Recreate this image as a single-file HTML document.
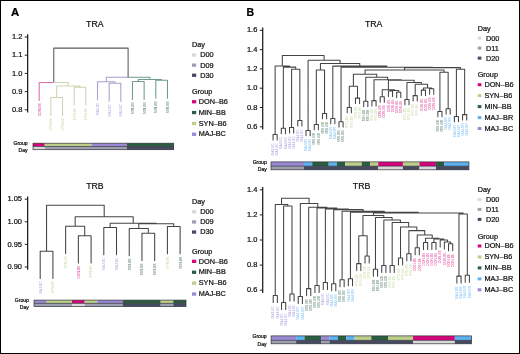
<!DOCTYPE html>
<html><head><meta charset="utf-8"><style>
html,body{margin:0;padding:0;background:#fff;}
body{width:520px;height:354px;overflow:hidden;font-family:"Liberation Sans",sans-serif;}
svg{display:block;will-change:transform;}
</style></head><body>
<svg width="520" height="354" viewBox="0 0 520 354" font-family="Liberation Sans, sans-serif">
<rect x="0" y="0" width="520" height="354" fill="#fff"/>
<text x="11.1" y="16.3" font-size="10.4" text-anchor="start" fill="#000" font-weight="bold" stroke="#000" stroke-width="0.22" textLength="8.2" lengthAdjust="spacingAndGlyphs">A</text>
<text x="246.6" y="16.3" font-size="10.4" text-anchor="start" fill="#000" font-weight="bold" stroke="#000" stroke-width="0.22" textLength="7.6" lengthAdjust="spacingAndGlyphs">B</text>
<text x="86.05" y="27.3" font-size="9.5" text-anchor="start" fill="#111" stroke="#111" stroke-width="0.22" textLength="17.5" lengthAdjust="spacingAndGlyphs">TRA</text>
<text x="86.2" y="189" font-size="9.5" text-anchor="start" fill="#111" stroke="#111" stroke-width="0.22" textLength="17.5" lengthAdjust="spacingAndGlyphs">TRB</text>
<text x="364.95" y="27.1" font-size="9.5" text-anchor="start" fill="#111" stroke="#111" stroke-width="0.22" textLength="17.5" lengthAdjust="spacingAndGlyphs">TRA</text>
<text x="352.85" y="189.3" font-size="9.5" text-anchor="start" fill="#111" stroke="#111" stroke-width="0.22" textLength="17.5" lengthAdjust="spacingAndGlyphs">TRB</text>
<path d="M27.65 34.2V112.6" stroke="#1a1a1a" stroke-width="1.25" fill="none"/>
<path d="M24.75 37H27.65M24.75 55.2H27.65M24.75 73.4H27.65M24.75 91.6H27.65M24.75 109.8H27.65" stroke="#222" stroke-width="1" fill="none"/>
<text x="22.4" y="39.17" font-size="7.5" text-anchor="end" fill="#111" stroke="#111" stroke-width="0.22">1.2</text>
<text x="22.4" y="57.38" font-size="7.5" text-anchor="end" fill="#111" stroke="#111" stroke-width="0.22">1.1</text>
<text x="22.4" y="75.58" font-size="7.5" text-anchor="end" fill="#111" stroke="#111" stroke-width="0.22">1.0</text>
<text x="22.4" y="93.77" font-size="7.5" text-anchor="end" fill="#111" stroke="#111" stroke-width="0.22">0.9</text>
<text x="22.4" y="111.97" font-size="7.5" text-anchor="end" fill="#111" stroke="#111" stroke-width="0.22">0.8</text>
<path d="M90.94 48.1H53.77V82.5M90.94 48.1H128.11V77.2" stroke="#5a5a5a" stroke-width="1.05" fill="none" stroke-linecap="round" stroke-linejoin="round"/>
<path d="M53.77 82.5H39.2V100.5" stroke="#dc6cb0" stroke-width="1.05" fill="none" stroke-linecap="round" stroke-linejoin="round"/>
<path d="M53.77 82.5H68.35V85.9M68.35 85.9H56.69V97.4M56.69 97.4H50.86V115.4M56.69 97.4H62.52V115.4M68.35 85.9H80.01V87.2M80.01 87.2H74.18V105.2M80.01 87.2H85.84V105.2" stroke="#cdd5b0" stroke-width="1.05" fill="none" stroke-linecap="round" stroke-linejoin="round"/>
<path d="M128.11 77.2H106.25V81.8M106.25 81.8H97.5V99.8M106.25 81.8H114.99V83.3M114.99 83.3H109.16V101.3M114.99 83.3H120.82V101.3" stroke="#a89ed0" stroke-width="1.05" fill="none" stroke-linecap="round" stroke-linejoin="round"/>
<path d="M128.11 77.2H149.97V79.5M149.97 79.5H138.31V81.4M138.31 81.4H132.48V99.4M138.31 81.4H144.14V99.4M149.97 79.5H161.63V80.3M161.63 80.3H155.8V98.3M161.63 80.3H167.46V98.3" stroke="#6f9c8c" stroke-width="1.05" fill="none" stroke-linecap="round" stroke-linejoin="round"/>
<text transform="translate(40.61 103.4) rotate(-90)" font-size="3.35" text-anchor="end" fill="#d6047c" fill-opacity="0.8">DON-B6</text>
<text transform="translate(52.27 118.3) rotate(-90)" font-size="3.35" text-anchor="end" fill="#bccf8a" fill-opacity="0.8">SYN-B6</text>
<text transform="translate(63.93 118.3) rotate(-90)" font-size="3.35" text-anchor="end" fill="#bccf8a" fill-opacity="0.8">SYN-B6</text>
<text transform="translate(75.59 108.1) rotate(-90)" font-size="3.35" text-anchor="end" fill="#bccf8a" fill-opacity="0.8">SYN-B6</text>
<text transform="translate(87.25 108.1) rotate(-90)" font-size="3.35" text-anchor="end" fill="#bccf8a" fill-opacity="0.8">SYN-B6</text>
<text transform="translate(98.91 102.7) rotate(-90)" font-size="3.35" text-anchor="end" fill="#9a88d6" fill-opacity="0.8">MAJ-BC</text>
<text transform="translate(110.57 104.2) rotate(-90)" font-size="3.35" text-anchor="end" fill="#9a88d6" fill-opacity="0.8">MAJ-BC</text>
<text transform="translate(122.23 104.2) rotate(-90)" font-size="3.35" text-anchor="end" fill="#9a88d6" fill-opacity="0.8">MAJ-BC</text>
<text transform="translate(133.89 102.3) rotate(-90)" font-size="3.35" text-anchor="end" fill="#2a5e42" fill-opacity="0.8">MIN-BB</text>
<text transform="translate(145.55 102.3) rotate(-90)" font-size="3.35" text-anchor="end" fill="#2a5e42" fill-opacity="0.8">MIN-BB</text>
<text transform="translate(157.21 101.2) rotate(-90)" font-size="3.35" text-anchor="end" fill="#2a5e42" fill-opacity="0.8">MIN-BB</text>
<text transform="translate(168.87 101.2) rotate(-90)" font-size="3.35" text-anchor="end" fill="#2a5e42" fill-opacity="0.8">MIN-BB</text>
<rect x="33" y="143.2" width="11.72" height="3.3" fill="#d6047c"/>
<rect x="44.73" y="143.2" width="46.9" height="3.3" fill="#bccf8a"/>
<rect x="91.62" y="143.2" width="35.17" height="3.3" fill="#9a88d6"/>
<rect x="126.8" y="143.2" width="46.9" height="3.3" fill="#2a5e42"/>
<rect x="33" y="146.5" width="11.72" height="3.2" fill="#d9d9dd"/>
<rect x="44.73" y="146.5" width="82.08" height="3.2" fill="#9ca0b2"/>
<rect x="126.8" y="146.5" width="46.9" height="3.2" fill="#454a64"/>
<rect x="33" y="143.2" width="140.7" height="6.5" fill="none" stroke="#333" stroke-width="0.7"/>
<path d="M33 146.5H173.7" stroke="#333" stroke-width="0.7"/>
<text x="27.6" y="144.7" font-size="5.1" text-anchor="end" fill="#111" stroke="#111" stroke-width="0.22">Group</text>
<text x="27.6" y="151.6" font-size="5.1" text-anchor="end" fill="#111" stroke="#111" stroke-width="0.22">Day</text>
<path d="M27.65 196.4V269.8" stroke="#1a1a1a" stroke-width="1.25" fill="none"/>
<path d="M24.75 199.2H27.65M24.75 221.8H27.65M24.75 244.4H27.65M24.75 267H27.65" stroke="#222" stroke-width="1" fill="none"/>
<text x="22" y="201.38" font-size="7.5" text-anchor="end" fill="#111" stroke="#111" stroke-width="0.22">1.05</text>
<text x="22" y="223.98" font-size="7.5" text-anchor="end" fill="#111" stroke="#111" stroke-width="0.22">1.00</text>
<text x="22" y="246.58" font-size="7.5" text-anchor="end" fill="#111" stroke="#111" stroke-width="0.22">0.95</text>
<text x="22" y="269.18" font-size="7.5" text-anchor="end" fill="#111" stroke="#111" stroke-width="0.22">0.90</text>
<path d="M75.38 205.2H46.56V251.2M46.56 251.2H40.2V278.5M46.56 251.2H52.92V278.5M75.38 205.2H104.2V216.8M104.2 216.8H75.18V226.3M75.18 226.3H65.64V253.6M75.18 226.3H84.72V235.7M84.72 235.7H78.36V263M84.72 235.7H91.08V263M104.2 216.8H133.22V223.2M133.22 223.2H110.16V227.4M110.16 227.4H103.8V254.7M110.16 227.4H116.52V254.7M133.22 223.2H156.27V223.7M156.27 223.7H138.78V228.4M138.78 228.4H129.24V255.7M138.78 228.4H148.32V233.3M148.32 233.3H141.96V260.6M148.32 233.3H154.68V260.6M156.27 223.7H173.76V226.5M173.76 226.5H167.4V253.8M173.76 226.5H180.12V253.8" stroke="#444444" stroke-width="1.05" fill="none" stroke-linecap="round" stroke-linejoin="round"/>
<text transform="translate(41.61 281.4) rotate(-90)" font-size="3.35" text-anchor="end" fill="#9a88d6" fill-opacity="0.8">MAJ-BC</text>
<text transform="translate(54.33 281.4) rotate(-90)" font-size="3.35" text-anchor="end" fill="#bccf8a" fill-opacity="0.8">SYN-B6</text>
<text transform="translate(67.05 256.5) rotate(-90)" font-size="3.35" text-anchor="end" fill="#bccf8a" fill-opacity="0.8">SYN-B6</text>
<text transform="translate(79.77 265.9) rotate(-90)" font-size="3.35" text-anchor="end" fill="#d6047c" fill-opacity="0.8">DON-B6</text>
<text transform="translate(92.49 265.9) rotate(-90)" font-size="3.35" text-anchor="end" fill="#bccf8a" fill-opacity="0.8">SYN-B6</text>
<text transform="translate(105.21 257.6) rotate(-90)" font-size="3.35" text-anchor="end" fill="#9a88d6" fill-opacity="0.8">MAJ-BC</text>
<text transform="translate(117.93 257.6) rotate(-90)" font-size="3.35" text-anchor="end" fill="#9a88d6" fill-opacity="0.8">MAJ-BC</text>
<text transform="translate(130.65 258.6) rotate(-90)" font-size="3.35" text-anchor="end" fill="#2a5e42" fill-opacity="0.8">MIN-BB</text>
<text transform="translate(143.37 263.5) rotate(-90)" font-size="3.35" text-anchor="end" fill="#2a5e42" fill-opacity="0.8">MIN-BB</text>
<text transform="translate(156.09 263.5) rotate(-90)" font-size="3.35" text-anchor="end" fill="#2a5e42" fill-opacity="0.8">MIN-BB</text>
<text transform="translate(168.81 256.7) rotate(-90)" font-size="3.35" text-anchor="end" fill="#bccf8a" fill-opacity="0.8">SYN-B6</text>
<text transform="translate(181.53 256.7) rotate(-90)" font-size="3.35" text-anchor="end" fill="#2a5e42" fill-opacity="0.8">MIN-BB</text>
<rect x="34" y="300.1" width="12.67" height="3.3" fill="#9a88d6"/>
<rect x="46.67" y="300.1" width="25.33" height="3.3" fill="#bccf8a"/>
<rect x="72" y="300.1" width="12.67" height="3.3" fill="#d6047c"/>
<rect x="84.67" y="300.1" width="12.67" height="3.3" fill="#bccf8a"/>
<rect x="97.33" y="300.1" width="25.33" height="3.3" fill="#9a88d6"/>
<rect x="122.67" y="300.1" width="38" height="3.3" fill="#2a5e42"/>
<rect x="160.67" y="300.1" width="12.67" height="3.3" fill="#bccf8a"/>
<rect x="173.33" y="300.1" width="12.67" height="3.3" fill="#2a5e42"/>
<rect x="34" y="303.4" width="38" height="3.2" fill="#9ca0b2"/>
<rect x="72" y="303.4" width="12.67" height="3.2" fill="#d9d9dd"/>
<rect x="84.67" y="303.4" width="38" height="3.2" fill="#9ca0b2"/>
<rect x="122.67" y="303.4" width="38" height="3.2" fill="#454a64"/>
<rect x="160.67" y="303.4" width="12.67" height="3.2" fill="#9ca0b2"/>
<rect x="173.33" y="303.4" width="12.67" height="3.2" fill="#454a64"/>
<rect x="34" y="300.1" width="152" height="6.5" fill="none" stroke="#333" stroke-width="0.7"/>
<path d="M34 303.4H186" stroke="#333" stroke-width="0.7"/>
<text x="28.9" y="302" font-size="5.1" text-anchor="end" fill="#111" stroke="#111" stroke-width="0.22">Group</text>
<text x="28.9" y="308.8" font-size="5.1" text-anchor="end" fill="#111" stroke="#111" stroke-width="0.22">Day</text>
<path d="M262.7 27.5V129.6" stroke="#1a1a1a" stroke-width="1.25" fill="none"/>
<path d="M259.8 30.3H262.7M259.8 49.6H262.7M259.8 68.9H262.7M259.8 88.2H262.7M259.8 107.5H262.7M259.8 126.8H262.7" stroke="#222" stroke-width="1" fill="none"/>
<text x="257.4" y="32.48" font-size="7.5" text-anchor="end" fill="#111" stroke="#111" stroke-width="0.22">1.6</text>
<text x="257.4" y="51.77" font-size="7.5" text-anchor="end" fill="#111" stroke="#111" stroke-width="0.22">1.4</text>
<text x="257.4" y="71.08" font-size="7.5" text-anchor="end" fill="#111" stroke="#111" stroke-width="0.22">1.2</text>
<text x="257.4" y="90.38" font-size="7.5" text-anchor="end" fill="#111" stroke="#111" stroke-width="0.22">1.0</text>
<text x="257.4" y="109.67" font-size="7.5" text-anchor="end" fill="#111" stroke="#111" stroke-width="0.22">0.8</text>
<text x="257.4" y="128.97" font-size="7.5" text-anchor="end" fill="#111" stroke="#111" stroke-width="0.22">0.6</text>
<path d="M303.21 55.4H282.33V65.9M282.33 65.9H275.12V134.5M275.12 134.5H273.06V139.9M275.12 134.5H277.18V139.9M282.33 65.9H289.54V67.1M289.54 67.1H283.36V128.3M283.36 128.3H281.3V133.7M283.36 128.3H285.42V133.7M289.54 67.1H295.72V69.3M295.72 69.3H291.6V127.5M291.6 127.5H289.54V132.9M291.6 127.5H293.66V132.9M295.72 69.3H299.84V120.5M299.84 120.5H297.78V125.9M299.84 120.5H301.9V125.9M303.21 55.4H324.1V60.2M324.1 60.2H308.08V130.4M308.08 130.4H306.02V135.8M308.08 130.4H310.14V135.8M324.1 60.2H340.12V63.4M340.12 63.4H320.44V69.9M320.44 69.9H316.32V124.4M316.32 124.4H314.26V129.8M316.32 124.4H318.38V129.8M320.44 69.9H324.56V113.4M324.56 113.4H322.5V118.8M324.56 113.4H326.62V118.8M340.12 63.4H359.79V66.1M359.79 66.1H332.8V118.4M332.8 118.4H330.74V123.8M332.8 118.4H334.86V123.8M359.79 66.1H386.79V67.3M386.79 67.3H341.04V121.7M341.04 121.7H338.98V127.1M341.04 121.7H343.1V127.1M386.79 67.3H432.53V67.6M432.53 67.6H404.55V69.9M404.55 69.9H365.05V74.2M365.05 74.2H353.4V86.3M353.4 86.3H349.28V107.4M349.28 107.4H347.22V112.8M349.28 107.4H351.34V112.8M353.4 86.3H357.52V98.1M357.52 98.1H355.46V103.5M357.52 98.1H359.58V103.5M365.05 74.2H376.7V77.3M376.7 77.3H365.76V101.2M365.76 101.2H363.7V106.6M365.76 101.2H367.82V106.6M376.7 77.3H387.65V79.8M387.65 79.8H374V100.6M374 100.6H371.94V106M374 100.6H376.06V106M387.65 79.8H401.29V80.3M401.29 80.3H388.42V89.8M388.42 89.8H382.24V96.8M382.24 96.8H380.18V102.2M382.24 96.8H384.3V102.2M388.42 89.8H394.6V90.4M394.6 90.4H390.48V91M390.48 91H388.42V96.4M390.48 91H392.54V96.4M394.6 90.4H398.72V92.2M398.72 92.2H396.66V97.6M398.72 92.2H400.78V97.6M401.29 80.3H414.17V82.5M414.17 82.5H406.96V99.4M406.96 99.4H404.9V104.8M406.96 99.4H409.02V104.8M414.17 82.5H421.38V84.3M421.38 84.3H415.2V95.6M415.2 95.6H413.14V101M415.2 95.6H417.26V101M421.38 84.3H427.56V88M427.56 88H423.44V90.1M423.44 90.1H421.38V95.5M423.44 90.1H425.5V95.5M427.56 88H431.68V88.8M431.68 88.8H429.62V94.2M431.68 88.8H433.74V94.2M404.55 69.9H444.04V72.2M444.04 72.2H439.92V111.4M439.92 111.4H437.86V116.8M439.92 111.4H441.98V116.8M444.04 72.2H448.16V108.7M448.16 108.7H446.1V114.1M448.16 108.7H450.22V114.1M432.53 67.6H460.52V69.3M460.52 69.3H456.4V116.4M456.4 116.4H454.34V121.8M456.4 116.4H458.46V121.8M460.52 69.3H464.64V114.6M464.64 114.6H462.58V120M464.64 114.6H466.7V120" stroke="#444444" stroke-width="1.05" fill="none" stroke-linecap="round" stroke-linejoin="round"/>
<text transform="translate(274.25 143.1) rotate(-90)" font-size="3.3" text-anchor="end" fill="#9a88d6" fill-opacity="0.8">MAJ-BC</text>
<text transform="translate(278.37 143.1) rotate(-90)" font-size="3.3" text-anchor="end" fill="#9a88d6" fill-opacity="0.8">MAJ-BC</text>
<text transform="translate(282.49 136.9) rotate(-90)" font-size="3.3" text-anchor="end" fill="#9a88d6" fill-opacity="0.8">MAJ-BC</text>
<text transform="translate(286.61 136.9) rotate(-90)" font-size="3.3" text-anchor="end" fill="#9a88d6" fill-opacity="0.8">MAJ-BC</text>
<text transform="translate(290.73 136.1) rotate(-90)" font-size="3.3" text-anchor="end" fill="#9a88d6" fill-opacity="0.8">MAJ-BC</text>
<text transform="translate(294.85 136.1) rotate(-90)" font-size="3.3" text-anchor="end" fill="#9a88d6" fill-opacity="0.8">MAJ-BC</text>
<text transform="translate(298.97 129.1) rotate(-90)" font-size="3.3" text-anchor="end" fill="#9a88d6" fill-opacity="0.8">MAJ-BC</text>
<text transform="translate(303.09 129.1) rotate(-90)" font-size="3.3" text-anchor="end" fill="#9a88d6" fill-opacity="0.8">MAJ-BC</text>
<text transform="translate(307.21 139) rotate(-90)" font-size="3.3" text-anchor="end" fill="#5cb2f2" fill-opacity="0.8">MAJ-BR</text>
<text transform="translate(311.33 139) rotate(-90)" font-size="3.3" text-anchor="end" fill="#5cb2f2" fill-opacity="0.8">MAJ-BR</text>
<text transform="translate(315.45 133) rotate(-90)" font-size="3.3" text-anchor="end" fill="#2a5e42" fill-opacity="0.8">MIN-BB</text>
<text transform="translate(319.57 133) rotate(-90)" font-size="3.3" text-anchor="end" fill="#2a5e42" fill-opacity="0.8">MIN-BB</text>
<text transform="translate(323.69 122) rotate(-90)" font-size="3.3" text-anchor="end" fill="#2a5e42" fill-opacity="0.8">MIN-BB</text>
<text transform="translate(327.81 122) rotate(-90)" font-size="3.3" text-anchor="end" fill="#2a5e42" fill-opacity="0.8">MIN-BB</text>
<text transform="translate(331.93 127) rotate(-90)" font-size="3.3" text-anchor="end" fill="#5cb2f2" fill-opacity="0.8">MAJ-BR</text>
<text transform="translate(336.05 127) rotate(-90)" font-size="3.3" text-anchor="end" fill="#5cb2f2" fill-opacity="0.8">MAJ-BR</text>
<text transform="translate(340.17 130.3) rotate(-90)" font-size="3.3" text-anchor="end" fill="#2a5e42" fill-opacity="0.8">MIN-BB</text>
<text transform="translate(344.29 130.3) rotate(-90)" font-size="3.3" text-anchor="end" fill="#2a5e42" fill-opacity="0.8">MIN-BB</text>
<text transform="translate(348.41 116) rotate(-90)" font-size="3.3" text-anchor="end" fill="#bccf8a" fill-opacity="0.8">SYN-B6</text>
<text transform="translate(352.53 116) rotate(-90)" font-size="3.3" text-anchor="end" fill="#bccf8a" fill-opacity="0.8">SYN-B6</text>
<text transform="translate(356.65 106.7) rotate(-90)" font-size="3.3" text-anchor="end" fill="#bccf8a" fill-opacity="0.8">SYN-B6</text>
<text transform="translate(360.77 106.7) rotate(-90)" font-size="3.3" text-anchor="end" fill="#bccf8a" fill-opacity="0.8">SYN-B6</text>
<text transform="translate(364.89 109.8) rotate(-90)" font-size="3.3" text-anchor="end" fill="#2a5e42" fill-opacity="0.8">MIN-BB</text>
<text transform="translate(369.01 109.8) rotate(-90)" font-size="3.3" text-anchor="end" fill="#2a5e42" fill-opacity="0.8">MIN-BB</text>
<text transform="translate(373.13 109.2) rotate(-90)" font-size="3.3" text-anchor="end" fill="#bccf8a" fill-opacity="0.8">SYN-B6</text>
<text transform="translate(377.25 109.2) rotate(-90)" font-size="3.3" text-anchor="end" fill="#bccf8a" fill-opacity="0.8">SYN-B6</text>
<text transform="translate(381.37 105.4) rotate(-90)" font-size="3.3" text-anchor="end" fill="#d6047c" fill-opacity="0.8">DON-B6</text>
<text transform="translate(385.49 105.4) rotate(-90)" font-size="3.3" text-anchor="end" fill="#d6047c" fill-opacity="0.8">DON-B6</text>
<text transform="translate(389.61 99.6) rotate(-90)" font-size="3.3" text-anchor="end" fill="#d6047c" fill-opacity="0.8">DON-B6</text>
<text transform="translate(393.73 99.6) rotate(-90)" font-size="3.3" text-anchor="end" fill="#d6047c" fill-opacity="0.8">DON-B6</text>
<text transform="translate(397.85 100.8) rotate(-90)" font-size="3.3" text-anchor="end" fill="#d6047c" fill-opacity="0.8">DON-B6</text>
<text transform="translate(401.97 100.8) rotate(-90)" font-size="3.3" text-anchor="end" fill="#d6047c" fill-opacity="0.8">DON-B6</text>
<text transform="translate(406.09 108) rotate(-90)" font-size="3.3" text-anchor="end" fill="#bccf8a" fill-opacity="0.8">SYN-B6</text>
<text transform="translate(410.21 108) rotate(-90)" font-size="3.3" text-anchor="end" fill="#bccf8a" fill-opacity="0.8">SYN-B6</text>
<text transform="translate(414.33 104.2) rotate(-90)" font-size="3.3" text-anchor="end" fill="#bccf8a" fill-opacity="0.8">SYN-B6</text>
<text transform="translate(418.45 104.2) rotate(-90)" font-size="3.3" text-anchor="end" fill="#bccf8a" fill-opacity="0.8">SYN-B6</text>
<text transform="translate(422.57 98.7) rotate(-90)" font-size="3.3" text-anchor="end" fill="#d6047c" fill-opacity="0.8">DON-B6</text>
<text transform="translate(426.69 98.7) rotate(-90)" font-size="3.3" text-anchor="end" fill="#d6047c" fill-opacity="0.8">DON-B6</text>
<text transform="translate(430.81 97.4) rotate(-90)" font-size="3.3" text-anchor="end" fill="#d6047c" fill-opacity="0.8">DON-B6</text>
<text transform="translate(434.93 97.4) rotate(-90)" font-size="3.3" text-anchor="end" fill="#d6047c" fill-opacity="0.8">DON-B6</text>
<text transform="translate(439.05 120) rotate(-90)" font-size="3.3" text-anchor="end" fill="#2a5e42" fill-opacity="0.8">MIN-BB</text>
<text transform="translate(443.17 120) rotate(-90)" font-size="3.3" text-anchor="end" fill="#2a5e42" fill-opacity="0.8">MIN-BB</text>
<text transform="translate(447.29 117.3) rotate(-90)" font-size="3.3" text-anchor="end" fill="#5cb2f2" fill-opacity="0.8">MAJ-BR</text>
<text transform="translate(451.41 117.3) rotate(-90)" font-size="3.3" text-anchor="end" fill="#5cb2f2" fill-opacity="0.8">MAJ-BR</text>
<text transform="translate(455.53 125) rotate(-90)" font-size="3.3" text-anchor="end" fill="#5cb2f2" fill-opacity="0.8">MAJ-BR</text>
<text transform="translate(459.65 125) rotate(-90)" font-size="3.3" text-anchor="end" fill="#5cb2f2" fill-opacity="0.8">MAJ-BR</text>
<text transform="translate(463.77 123.2) rotate(-90)" font-size="3.3" text-anchor="end" fill="#5cb2f2" fill-opacity="0.8">MAJ-BR</text>
<text transform="translate(467.89 123.2) rotate(-90)" font-size="3.3" text-anchor="end" fill="#5cb2f2" fill-opacity="0.8">MAJ-BR</text>
<rect x="271" y="161.9" width="32.98" height="4.3" fill="#9a88d6"/>
<rect x="303.98" y="161.9" width="8.25" height="4.3" fill="#5cb2f2"/>
<rect x="312.23" y="161.9" width="16.49" height="4.3" fill="#2a5e42"/>
<rect x="328.72" y="161.9" width="8.25" height="4.3" fill="#5cb2f2"/>
<rect x="336.97" y="161.9" width="8.25" height="4.3" fill="#2a5e42"/>
<rect x="345.21" y="161.9" width="16.49" height="4.3" fill="#bccf8a"/>
<rect x="361.7" y="161.9" width="8.25" height="4.3" fill="#2a5e42"/>
<rect x="369.95" y="161.9" width="8.25" height="4.3" fill="#bccf8a"/>
<rect x="378.2" y="161.9" width="24.74" height="4.3" fill="#d6047c"/>
<rect x="402.93" y="161.9" width="16.49" height="4.3" fill="#bccf8a"/>
<rect x="419.42" y="161.9" width="16.49" height="4.3" fill="#d6047c"/>
<rect x="435.92" y="161.9" width="8.25" height="4.3" fill="#2a5e42"/>
<rect x="444.16" y="161.9" width="24.74" height="4.3" fill="#5cb2f2"/>
<rect x="271" y="166.2" width="32.98" height="3.6" fill="#9ca0b2"/>
<rect x="303.98" y="166.2" width="74.21" height="3.6" fill="#454a64"/>
<rect x="378.2" y="166.2" width="24.74" height="3.6" fill="#d9d9dd"/>
<rect x="402.93" y="166.2" width="16.49" height="3.6" fill="#454a64"/>
<rect x="419.42" y="166.2" width="16.49" height="3.6" fill="#d9d9dd"/>
<rect x="435.92" y="166.2" width="32.98" height="3.6" fill="#454a64"/>
<rect x="271" y="161.9" width="197.9" height="7.9" fill="none" stroke="#333" stroke-width="0.7"/>
<path d="M271 166.2H468.9" stroke="#333" stroke-width="0.7"/>
<text x="266.8" y="164.4" font-size="5.1" text-anchor="end" fill="#111" stroke="#111" stroke-width="0.22">Group</text>
<text x="266.8" y="171.3" font-size="5.1" text-anchor="end" fill="#111" stroke="#111" stroke-width="0.22">Day</text>
<path d="M262.7 187V293" stroke="#1a1a1a" stroke-width="1.25" fill="none"/>
<path d="M259.8 189.8H262.7M259.8 214.9H262.7M259.8 240H262.7M259.8 265.1H262.7M259.8 290.2H262.7" stroke="#222" stroke-width="1" fill="none"/>
<text x="257.4" y="191.98" font-size="7.5" text-anchor="end" fill="#111" stroke="#111" stroke-width="0.22">1.4</text>
<text x="257.4" y="217.08" font-size="7.5" text-anchor="end" fill="#111" stroke="#111" stroke-width="0.22">1.2</text>
<text x="257.4" y="242.18" font-size="7.5" text-anchor="end" fill="#111" stroke="#111" stroke-width="0.22">1.0</text>
<text x="257.4" y="267.28" font-size="7.5" text-anchor="end" fill="#111" stroke="#111" stroke-width="0.22">0.8</text>
<text x="257.4" y="292.38" font-size="7.5" text-anchor="end" fill="#111" stroke="#111" stroke-width="0.22">0.6</text>
<path d="M295.31 198.3H281.54V204.4M281.54 204.4H275.27V295.5M275.27 295.5H273.19V302.5M275.27 295.5H277.36V302.5M281.54 204.4H287.8V205.9M287.8 205.9H283.62V302.5M283.62 302.5H281.54V309.5M283.62 302.5H285.71V309.5M287.8 205.9H291.98V293.9M291.98 293.9H289.89V300.9M291.98 293.9H294.06V300.9M295.31 198.3H309.07V203.4M309.07 203.4H300.33V296.5M300.33 296.5H298.24V303.5M300.33 296.5H302.41V303.5M309.07 203.4H317.82V207.2M317.82 207.2H308.68V288.6M308.68 288.6H306.59V295.6M308.68 288.6H310.76V295.6M317.82 207.2H326.97V207.9M326.97 207.9H317.02V285.5M317.02 285.5H314.94V292.5M317.02 285.5H319.11V292.5M326.97 207.9H336.92V208.9M336.92 208.9H325.38V282.4M325.38 282.4H323.29V289.4M325.38 282.4H327.46V289.4M336.92 208.9H348.47V209.6M348.47 209.6H333.73V283.7M333.73 283.7H331.64V290.7M333.73 283.7H335.81V290.7M348.47 209.6H363.21V211.2M363.21 211.2H342.08V279.7M342.08 279.7H339.99V286.7M342.08 279.7H344.16V286.7M363.21 211.2H384.34V212.3M384.34 212.3H350.43V278.7M350.43 278.7H348.34V285.7M350.43 278.7H352.51V285.7M384.34 212.3H418.26V213M418.26 213H373.37V215.4M373.37 215.4H362.95V235.7M362.95 235.7H358.77V263.6M358.77 263.6H356.69V270.6M358.77 263.6H360.86V270.6M362.95 235.7H367.12V255.9M367.12 255.9H365.04V262.9M367.12 255.9H369.21V262.9M373.37 215.4H383.8V217.4M383.8 217.4H375.48V269.2M375.48 269.2H373.39V276.2M375.48 269.2H377.56V276.2M383.8 217.4H392.12V219.9M392.12 219.9H383.83V265.5M383.83 265.5H381.74V272.5M383.83 265.5H385.91V272.5M392.12 219.9H400.42V222.4M400.42 222.4H392.18V265.4M392.18 265.4H390.09V272.4M392.18 265.4H394.26V272.4M400.42 222.4H408.66V226.9M408.66 226.9H400.52V257.9M400.52 257.9H398.44V264.9M400.52 257.9H402.61V264.9M408.66 226.9H416.8V230.6M416.8 230.6H408.88V253.8M408.88 253.8H406.79V260.8M408.88 253.8H410.96V260.8M416.8 230.6H424.73V234.9M424.73 234.9H417.23V247.7M417.23 247.7H415.14V254.7M417.23 247.7H419.31V254.7M424.73 234.9H432.23V238.3M432.23 238.3H425.58V242.4M425.58 242.4H423.49V249.4M425.58 242.4H427.66V249.4M432.23 238.3H438.88V239M438.88 239H433.93V242.4M433.93 242.4H431.84V249.4M433.93 242.4H436.01V249.4M438.88 239H443.84V239.9M443.84 239.9H440.19V246.9M443.84 239.9H447.49V242M447.49 242H444.36V249M447.49 242H450.62V243.7M450.62 243.7H448.54V250.7M450.62 243.7H452.71V250.7M418.26 213H463.15V213.9M463.15 213.9H458.98V276.1M458.98 276.1H456.89V283.1M458.98 276.1H461.06V283.1M463.15 213.9H467.33V275.3M467.33 275.3H465.24V282.3M467.33 275.3H469.41V282.3" stroke="#444444" stroke-width="1.05" fill="none" stroke-linecap="round" stroke-linejoin="round"/>
<text transform="translate(274.38 306.1) rotate(-90)" font-size="3.3" text-anchor="end" fill="#9a88d6" fill-opacity="0.8">MAJ-BC</text>
<text transform="translate(278.55 306.1) rotate(-90)" font-size="3.3" text-anchor="end" fill="#9a88d6" fill-opacity="0.8">MAJ-BC</text>
<text transform="translate(282.73 313.1) rotate(-90)" font-size="3.3" text-anchor="end" fill="#9a88d6" fill-opacity="0.8">MAJ-BC</text>
<text transform="translate(286.9 313.1) rotate(-90)" font-size="3.3" text-anchor="end" fill="#9a88d6" fill-opacity="0.8">MAJ-BC</text>
<text transform="translate(291.08 304.5) rotate(-90)" font-size="3.3" text-anchor="end" fill="#9a88d6" fill-opacity="0.8">MAJ-BC</text>
<text transform="translate(295.25 304.5) rotate(-90)" font-size="3.3" text-anchor="end" fill="#9a88d6" fill-opacity="0.8">MAJ-BC</text>
<text transform="translate(299.43 307.1) rotate(-90)" font-size="3.3" text-anchor="end" fill="#5cb2f2" fill-opacity="0.8">MAJ-BR</text>
<text transform="translate(303.6 307.1) rotate(-90)" font-size="3.3" text-anchor="end" fill="#5cb2f2" fill-opacity="0.8">MAJ-BR</text>
<text transform="translate(307.78 299.2) rotate(-90)" font-size="3.3" text-anchor="end" fill="#2a5e42" fill-opacity="0.8">MIN-BB</text>
<text transform="translate(311.95 299.2) rotate(-90)" font-size="3.3" text-anchor="end" fill="#2a5e42" fill-opacity="0.8">MIN-BB</text>
<text transform="translate(316.13 296.1) rotate(-90)" font-size="3.3" text-anchor="end" fill="#2a5e42" fill-opacity="0.8">MIN-BB</text>
<text transform="translate(320.3 296.1) rotate(-90)" font-size="3.3" text-anchor="end" fill="#2a5e42" fill-opacity="0.8">MIN-BB</text>
<text transform="translate(324.48 293) rotate(-90)" font-size="3.3" text-anchor="end" fill="#9a88d6" fill-opacity="0.8">MAJ-BC</text>
<text transform="translate(328.65 293) rotate(-90)" font-size="3.3" text-anchor="end" fill="#9a88d6" fill-opacity="0.8">MAJ-BC</text>
<text transform="translate(332.83 294.3) rotate(-90)" font-size="3.3" text-anchor="end" fill="#5cb2f2" fill-opacity="0.8">MAJ-BR</text>
<text transform="translate(337 294.3) rotate(-90)" font-size="3.3" text-anchor="end" fill="#5cb2f2" fill-opacity="0.8">MAJ-BR</text>
<text transform="translate(341.18 290.3) rotate(-90)" font-size="3.3" text-anchor="end" fill="#2a5e42" fill-opacity="0.8">MIN-BB</text>
<text transform="translate(345.35 290.3) rotate(-90)" font-size="3.3" text-anchor="end" fill="#2a5e42" fill-opacity="0.8">MIN-BB</text>
<text transform="translate(349.53 289.3) rotate(-90)" font-size="3.3" text-anchor="end" fill="#5cb2f2" fill-opacity="0.8">MAJ-BR</text>
<text transform="translate(353.7 289.3) rotate(-90)" font-size="3.3" text-anchor="end" fill="#5cb2f2" fill-opacity="0.8">MAJ-BR</text>
<text transform="translate(357.88 274.2) rotate(-90)" font-size="3.3" text-anchor="end" fill="#bccf8a" fill-opacity="0.8">SYN-B6</text>
<text transform="translate(362.05 274.2) rotate(-90)" font-size="3.3" text-anchor="end" fill="#bccf8a" fill-opacity="0.8">SYN-B6</text>
<text transform="translate(366.23 266.5) rotate(-90)" font-size="3.3" text-anchor="end" fill="#bccf8a" fill-opacity="0.8">SYN-B6</text>
<text transform="translate(370.4 266.5) rotate(-90)" font-size="3.3" text-anchor="end" fill="#bccf8a" fill-opacity="0.8">SYN-B6</text>
<text transform="translate(374.58 279.8) rotate(-90)" font-size="3.3" text-anchor="end" fill="#2a5e42" fill-opacity="0.8">MIN-BB</text>
<text transform="translate(378.75 279.8) rotate(-90)" font-size="3.3" text-anchor="end" fill="#2a5e42" fill-opacity="0.8">MIN-BB</text>
<text transform="translate(382.93 276.1) rotate(-90)" font-size="3.3" text-anchor="end" fill="#2a5e42" fill-opacity="0.8">MIN-BB</text>
<text transform="translate(387.1 276.1) rotate(-90)" font-size="3.3" text-anchor="end" fill="#2a5e42" fill-opacity="0.8">MIN-BB</text>
<text transform="translate(391.28 276) rotate(-90)" font-size="3.3" text-anchor="end" fill="#bccf8a" fill-opacity="0.8">SYN-B6</text>
<text transform="translate(395.45 276) rotate(-90)" font-size="3.3" text-anchor="end" fill="#bccf8a" fill-opacity="0.8">SYN-B6</text>
<text transform="translate(399.63 268.5) rotate(-90)" font-size="3.3" text-anchor="end" fill="#bccf8a" fill-opacity="0.8">SYN-B6</text>
<text transform="translate(403.8 268.5) rotate(-90)" font-size="3.3" text-anchor="end" fill="#bccf8a" fill-opacity="0.8">SYN-B6</text>
<text transform="translate(407.98 264.4) rotate(-90)" font-size="3.3" text-anchor="end" fill="#bccf8a" fill-opacity="0.8">SYN-B6</text>
<text transform="translate(412.15 264.4) rotate(-90)" font-size="3.3" text-anchor="end" fill="#bccf8a" fill-opacity="0.8">SYN-B6</text>
<text transform="translate(416.33 258.3) rotate(-90)" font-size="3.3" text-anchor="end" fill="#d6047c" fill-opacity="0.8">DON-B6</text>
<text transform="translate(420.5 258.3) rotate(-90)" font-size="3.3" text-anchor="end" fill="#d6047c" fill-opacity="0.8">DON-B6</text>
<text transform="translate(424.68 253) rotate(-90)" font-size="3.3" text-anchor="end" fill="#d6047c" fill-opacity="0.8">DON-B6</text>
<text transform="translate(428.85 253) rotate(-90)" font-size="3.3" text-anchor="end" fill="#d6047c" fill-opacity="0.8">DON-B6</text>
<text transform="translate(433.03 253) rotate(-90)" font-size="3.3" text-anchor="end" fill="#d6047c" fill-opacity="0.8">DON-B6</text>
<text transform="translate(437.2 253) rotate(-90)" font-size="3.3" text-anchor="end" fill="#d6047c" fill-opacity="0.8">DON-B6</text>
<text transform="translate(441.38 250.5) rotate(-90)" font-size="3.3" text-anchor="end" fill="#d6047c" fill-opacity="0.8">DON-B6</text>
<text transform="translate(445.55 252.6) rotate(-90)" font-size="3.3" text-anchor="end" fill="#d6047c" fill-opacity="0.8">DON-B6</text>
<text transform="translate(449.73 254.3) rotate(-90)" font-size="3.3" text-anchor="end" fill="#d6047c" fill-opacity="0.8">DON-B6</text>
<text transform="translate(453.9 254.3) rotate(-90)" font-size="3.3" text-anchor="end" fill="#d6047c" fill-opacity="0.8">DON-B6</text>
<text transform="translate(458.08 286.7) rotate(-90)" font-size="3.3" text-anchor="end" fill="#5cb2f2" fill-opacity="0.8">MAJ-BR</text>
<text transform="translate(462.25 286.7) rotate(-90)" font-size="3.3" text-anchor="end" fill="#5cb2f2" fill-opacity="0.8">MAJ-BR</text>
<text transform="translate(466.43 285.9) rotate(-90)" font-size="3.3" text-anchor="end" fill="#5cb2f2" fill-opacity="0.8">MAJ-BR</text>
<text transform="translate(470.6 285.9) rotate(-90)" font-size="3.3" text-anchor="end" fill="#5cb2f2" fill-opacity="0.8">MAJ-BR</text>
<rect x="271.1" y="335.9" width="25.05" height="4.5" fill="#9a88d6"/>
<rect x="296.15" y="335.9" width="8.35" height="4.5" fill="#5cb2f2"/>
<rect x="304.5" y="335.9" width="16.7" height="4.5" fill="#2a5e42"/>
<rect x="321.2" y="335.9" width="8.35" height="4.5" fill="#9a88d6"/>
<rect x="329.55" y="335.9" width="8.35" height="4.5" fill="#5cb2f2"/>
<rect x="337.9" y="335.9" width="8.35" height="4.5" fill="#2a5e42"/>
<rect x="346.25" y="335.9" width="8.35" height="4.5" fill="#5cb2f2"/>
<rect x="354.6" y="335.9" width="16.7" height="4.5" fill="#bccf8a"/>
<rect x="371.3" y="335.9" width="16.7" height="4.5" fill="#2a5e42"/>
<rect x="388" y="335.9" width="25.05" height="4.5" fill="#bccf8a"/>
<rect x="413.05" y="335.9" width="41.75" height="4.5" fill="#d6047c"/>
<rect x="454.8" y="335.9" width="16.7" height="4.5" fill="#5cb2f2"/>
<rect x="271.1" y="340.4" width="25.05" height="3.4" fill="#9ca0b2"/>
<rect x="296.15" y="340.4" width="25.05" height="3.4" fill="#454a64"/>
<rect x="321.2" y="340.4" width="8.35" height="3.4" fill="#9ca0b2"/>
<rect x="329.55" y="340.4" width="83.5" height="3.4" fill="#454a64"/>
<rect x="413.05" y="340.4" width="41.75" height="3.4" fill="#d9d9dd"/>
<rect x="454.8" y="340.4" width="16.7" height="3.4" fill="#454a64"/>
<rect x="271.1" y="335.9" width="200.4" height="7.9" fill="none" stroke="#333" stroke-width="0.7"/>
<path d="M271.1 340.4H471.5" stroke="#333" stroke-width="0.7"/>
<text x="266.6" y="338.4" font-size="5.1" text-anchor="end" fill="#111" stroke="#111" stroke-width="0.22">Group</text>
<text x="266.6" y="345.5" font-size="5.1" text-anchor="end" fill="#111" stroke="#111" stroke-width="0.22">Day</text>
<text x="192" y="47.4" font-size="7.3" text-anchor="start" fill="#111" stroke="#111" stroke-width="0.22">Day</text>
<rect x="192" y="53.4" width="4.2" height="3.3" fill="#d9d9dd"/>
<text x="200.3" y="57.4" font-size="7.3" text-anchor="start" fill="#111" stroke="#111" stroke-width="0.22">D00</text>
<rect x="192" y="63.5" width="4.2" height="3.3" fill="#9ca0b2"/>
<text x="200.3" y="67.5" font-size="7.3" text-anchor="start" fill="#111" stroke="#111" stroke-width="0.22">D09</text>
<rect x="192" y="73.6" width="4.2" height="3.3" fill="#454a64"/>
<text x="200.3" y="77.6" font-size="7.3" text-anchor="start" fill="#111" stroke="#111" stroke-width="0.22">D30</text>
<text x="192" y="93.8" font-size="7.3" text-anchor="start" fill="#111" stroke="#111" stroke-width="0.22">Group</text>
<rect x="192" y="100.1" width="4.2" height="3.3" fill="#d6047c"/>
<text x="198.7" y="103.9" font-size="7.3" text-anchor="start" fill="#111" stroke="#111" stroke-width="0.22">DON–B6</text>
<rect x="192" y="110.9" width="4.2" height="3.3" fill="#2a5e42"/>
<text x="198.7" y="114.7" font-size="7.3" text-anchor="start" fill="#111" stroke="#111" stroke-width="0.22">MIN–BB</text>
<rect x="192" y="121.9" width="4.2" height="3.3" fill="#bccf8a"/>
<text x="198.7" y="125.7" font-size="7.3" text-anchor="start" fill="#111" stroke="#111" stroke-width="0.22">SYN–B6</text>
<rect x="192" y="132.6" width="4.2" height="3.3" fill="#9a88d6"/>
<text x="198.7" y="136.4" font-size="7.3" text-anchor="start" fill="#111" stroke="#111" stroke-width="0.22">MAJ-BC</text>
<text x="192" y="204.3" font-size="7.3" text-anchor="start" fill="#111" stroke="#111" stroke-width="0.22">Day</text>
<rect x="192" y="210.1" width="4.2" height="3.3" fill="#d9d9dd"/>
<text x="200.3" y="214.1" font-size="7.3" text-anchor="start" fill="#111" stroke="#111" stroke-width="0.22">D00</text>
<rect x="192" y="220.3" width="4.2" height="3.3" fill="#9ca0b2"/>
<text x="200.3" y="224.3" font-size="7.3" text-anchor="start" fill="#111" stroke="#111" stroke-width="0.22">D09</text>
<rect x="192" y="230.4" width="4.2" height="3.3" fill="#454a64"/>
<text x="200.3" y="234.4" font-size="7.3" text-anchor="start" fill="#111" stroke="#111" stroke-width="0.22">D30</text>
<text x="192" y="254" font-size="7.3" text-anchor="start" fill="#111" stroke="#111" stroke-width="0.22">Group</text>
<rect x="192" y="259.7" width="4.2" height="3.3" fill="#d6047c"/>
<text x="198.7" y="263.5" font-size="7.3" text-anchor="start" fill="#111" stroke="#111" stroke-width="0.22">DON–B6</text>
<rect x="192" y="270.6" width="4.2" height="3.3" fill="#2a5e42"/>
<text x="198.7" y="274.4" font-size="7.3" text-anchor="start" fill="#111" stroke="#111" stroke-width="0.22">MIN–BB</text>
<rect x="192" y="281.5" width="4.2" height="3.3" fill="#bccf8a"/>
<text x="198.7" y="285.3" font-size="7.3" text-anchor="start" fill="#111" stroke="#111" stroke-width="0.22">SYN–B6</text>
<rect x="192" y="292.4" width="4.2" height="3.3" fill="#9a88d6"/>
<text x="198.7" y="296.2" font-size="7.3" text-anchor="start" fill="#111" stroke="#111" stroke-width="0.22">MAJ-BC</text>
<text x="477.7" y="30.8" font-size="7.3" text-anchor="start" fill="#111" stroke="#111" stroke-width="0.22">Day</text>
<rect x="477.7" y="36.6" width="3.7" height="3" fill="#d9d9dd"/>
<text x="486" y="40.6" font-size="7.3" text-anchor="start" fill="#111" stroke="#111" stroke-width="0.22">D00</text>
<rect x="477.7" y="46.6" width="3.7" height="3" fill="#9ca0b2"/>
<text x="486" y="50.6" font-size="7.3" text-anchor="start" fill="#111" stroke="#111" stroke-width="0.22">D11</text>
<rect x="477.7" y="56.6" width="3.7" height="3" fill="#454a64"/>
<text x="486" y="60.6" font-size="7.3" text-anchor="start" fill="#111" stroke="#111" stroke-width="0.22">D20</text>
<text x="477.7" y="77.2" font-size="7.3" text-anchor="start" fill="#111" stroke="#111" stroke-width="0.22">Group</text>
<rect x="477.7" y="83.2" width="3.7" height="3" fill="#d6047c"/>
<text x="484.4" y="87" font-size="7.3" text-anchor="start" fill="#111" stroke="#111" stroke-width="0.22">DON–B6</text>
<rect x="477.7" y="94.1" width="3.7" height="3" fill="#bccf8a"/>
<text x="484.4" y="97.9" font-size="7.3" text-anchor="start" fill="#111" stroke="#111" stroke-width="0.22">SYN–B6</text>
<rect x="477.7" y="105.1" width="3.7" height="3" fill="#2a5e42"/>
<text x="484.4" y="108.9" font-size="7.3" text-anchor="start" fill="#111" stroke="#111" stroke-width="0.22">MIN–BB</text>
<rect x="477.7" y="116.1" width="3.7" height="3" fill="#5cb2f2"/>
<text x="484.4" y="119.9" font-size="7.3" text-anchor="start" fill="#111" stroke="#111" stroke-width="0.22">MAJ–BR</text>
<rect x="477.7" y="127" width="3.7" height="3" fill="#9a88d6"/>
<text x="484.4" y="130.8" font-size="7.3" text-anchor="start" fill="#111" stroke="#111" stroke-width="0.22">MAJ–BC</text>
<text x="477.7" y="192.1" font-size="7.3" text-anchor="start" fill="#111" stroke="#111" stroke-width="0.22">Day</text>
<rect x="477.7" y="197.9" width="3.7" height="3" fill="#d9d9dd"/>
<text x="486" y="201.9" font-size="7.3" text-anchor="start" fill="#111" stroke="#111" stroke-width="0.22">D00</text>
<rect x="477.7" y="207.9" width="3.7" height="3" fill="#9ca0b2"/>
<text x="486" y="211.9" font-size="7.3" text-anchor="start" fill="#111" stroke="#111" stroke-width="0.22">D11</text>
<rect x="477.7" y="217.9" width="3.7" height="3" fill="#454a64"/>
<text x="486" y="221.9" font-size="7.3" text-anchor="start" fill="#111" stroke="#111" stroke-width="0.22">D20</text>
<text x="477.7" y="238.5" font-size="7.3" text-anchor="start" fill="#111" stroke="#111" stroke-width="0.22">Group</text>
<rect x="477.7" y="244.5" width="3.7" height="3" fill="#d6047c"/>
<text x="484.4" y="248.3" font-size="7.3" text-anchor="start" fill="#111" stroke="#111" stroke-width="0.22">DON–B6</text>
<rect x="477.7" y="255.4" width="3.7" height="3" fill="#bccf8a"/>
<text x="484.4" y="259.2" font-size="7.3" text-anchor="start" fill="#111" stroke="#111" stroke-width="0.22">SYN–B6</text>
<rect x="477.7" y="266.4" width="3.7" height="3" fill="#2a5e42"/>
<text x="484.4" y="270.2" font-size="7.3" text-anchor="start" fill="#111" stroke="#111" stroke-width="0.22">MIN–BB</text>
<rect x="477.7" y="277.4" width="3.7" height="3" fill="#5cb2f2"/>
<text x="484.4" y="281.2" font-size="7.3" text-anchor="start" fill="#111" stroke="#111" stroke-width="0.22">MAJ–BR</text>
<rect x="477.7" y="288.3" width="3.7" height="3" fill="#9a88d6"/>
<text x="484.4" y="292.1" font-size="7.3" text-anchor="start" fill="#111" stroke="#111" stroke-width="0.22">MAJ–BC</text>
<rect x="0.5" y="0.5" width="519" height="353" fill="none" stroke="#000" stroke-width="1"/>
</svg>
</body></html>
